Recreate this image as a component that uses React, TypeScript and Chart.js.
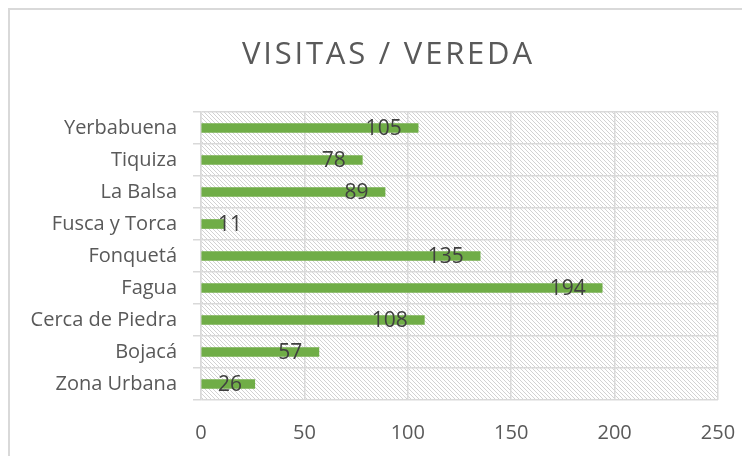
import React, { useEffect, useRef } from "react";
import { Chart, registerables } from "chart.js";

Chart.register(...registerables);

const title = "VISITAS / VEREDA";
const categories = [
  "Yerbabuena",
  "Tiquiza",
  "La Balsa",
  "Fusca y Torca",
  "Fonquetá",
  "Fagua",
  "Cerca de Piedra",
  "Bojacá",
  "Zona Urbana",
];
const visits = [105, 78, 89, 11, 135, 194, 108, 57, 26];
const xTicks = [0, 50, 100, 150, 200, 250];

const FONT = "'Open Sans', 'DejaVu Sans', sans-serif";

function makePattern(ctx: CanvasRenderingContext2D) {
  const c = document.createElement("canvas");
  c.width = 4;
  c.height = 4;
  const p = c.getContext("2d")!;
  p.fillStyle = "#ffffff";
  p.fillRect(0, 0, 4, 4);
  p.fillStyle = "#d2d2d2";
  for (let i = 0; i < 4; i++) p.fillRect(i, i, 1, 1);
  return ctx.createPattern(c, "repeat");
}

const hatchPlugin = {
  id: "hatch",
  beforeDraw(chart: any) {
    const { ctx, chartArea } = chart;
    const pat = makePattern(ctx);
    if (!pat) return;
    ctx.save();
    ctx.fillStyle = pat;
    ctx.fillRect(chartArea.left, chartArea.top, chartArea.right - chartArea.left, chartArea.bottom - chartArea.top);
    ctx.restore();
  },
};

const titlePlugin = {
  id: "customTitle",
  afterDraw(chart: any) {
    const ctx = chart.ctx as CanvasRenderingContext2D;
    ctx.save();
    ctx.font = `31px ${FONT}`;
    ctx.fillStyle = "#595959";
    ctx.textBaseline = "alphabetic";
    ctx.textAlign = "left";
    const w0 = ctx.measureText(title).width;
    const target = 290;
    const sp = Math.max(0, (target - w0) / (title.length - 1));
    (ctx as any).letterSpacing = `${sp}px`;
    ctx.fillText(title, 377 - target / 2, 54);
    ctx.restore();
  },
};

const labelPlugin = {
  id: "barLabels",
  afterDatasetsDraw(chart: any) {
    const ctx = chart.ctx as CanvasRenderingContext2D;
    const meta = chart.getDatasetMeta(0);
    const left = chart.chartArea.left;
    ctx.save();
    ctx.font = `21px ${FONT}`;
    ctx.fillStyle = "#404040";
    ctx.textAlign = "right";
    ctx.textBaseline = "middle";
    meta.data.forEach((bar: any, i: number) => {
      const txt = String(visits[i]);
      const w = ctx.measureText(txt).width;
      const xr = Math.max(bar.x - 16.5, left + 17 + w);
      ctx.fillText(txt, xr, bar.y + 1);
    });
    ctx.restore();
  },
};

export default function App() {
  const ref = useRef<HTMLCanvasElement>(null);
  useEffect(() => {
    if (!ref.current) return;
    const chart = new Chart(ref.current, {
      type: "bar",
      data: {
        labels: categories,
        datasets: [
          {
            data: visits,
            backgroundColor: "#70ad47",
            borderWidth: 0,
            barThickness: 9,
          },
        ],
      },
      options: {
        indexAxis: "y",
        responsive: false,
        animation: false,
        layout: { padding: { top: 102, right: 32, left: 0, bottom: 0 } },
        plugins: {
          legend: { display: false },
          title: { display: false },
          tooltip: { enabled: false },
        },
        scales: {
          x: {
            min: 0,
            max: 250,
            afterBuildTicks: (scale: any) => {
              scale.ticks = xTicks.map((v) => ({ value: v }));
            },
            afterFit: (scale: any) => {
              scale.height = 56;
              scale.paddingLeft = 0;
              scale.paddingRight = 0;
            },
            grid: { color: "#d9d9d9", lineWidth: 1.5, drawTicks: false },
            border: { display: false },
            ticks: {
              padding: 21,
              color: "#595959",
              font: { family: FONT, size: 20 },
            },
          },
          y: {
            afterFit: (scale: any) => {
              scale.width = 191;
              scale.paddingTop = 0;
              scale.paddingBottom = 0;
            },
            grid: {
              color: "#d9d9d9",
              lineWidth: 1.5,
              offset: true,
              drawTicks: true,
              tickLength: 8,
            },
            border: { color: "#d9d9d9", width: 1.5 },
            ticks: {
              padding: 16,
              color: "#595959",
              font: { family: FONT, size: 20 },
            },
          },
        },
      },
      plugins: [hatchPlugin, labelPlugin, titlePlugin],
    });
    return () => chart.destroy();
  }, []);
  return (
    <div
      style={{
        width: 740,
        height: 446,
        borderLeft: "2px solid #d9d9d9",
        borderTop: "2px solid #d9d9d9",
      }}
    >
      <canvas ref={ref} width={740} height={446} style={{ display: "block" }} />
    </div>
  );
}
